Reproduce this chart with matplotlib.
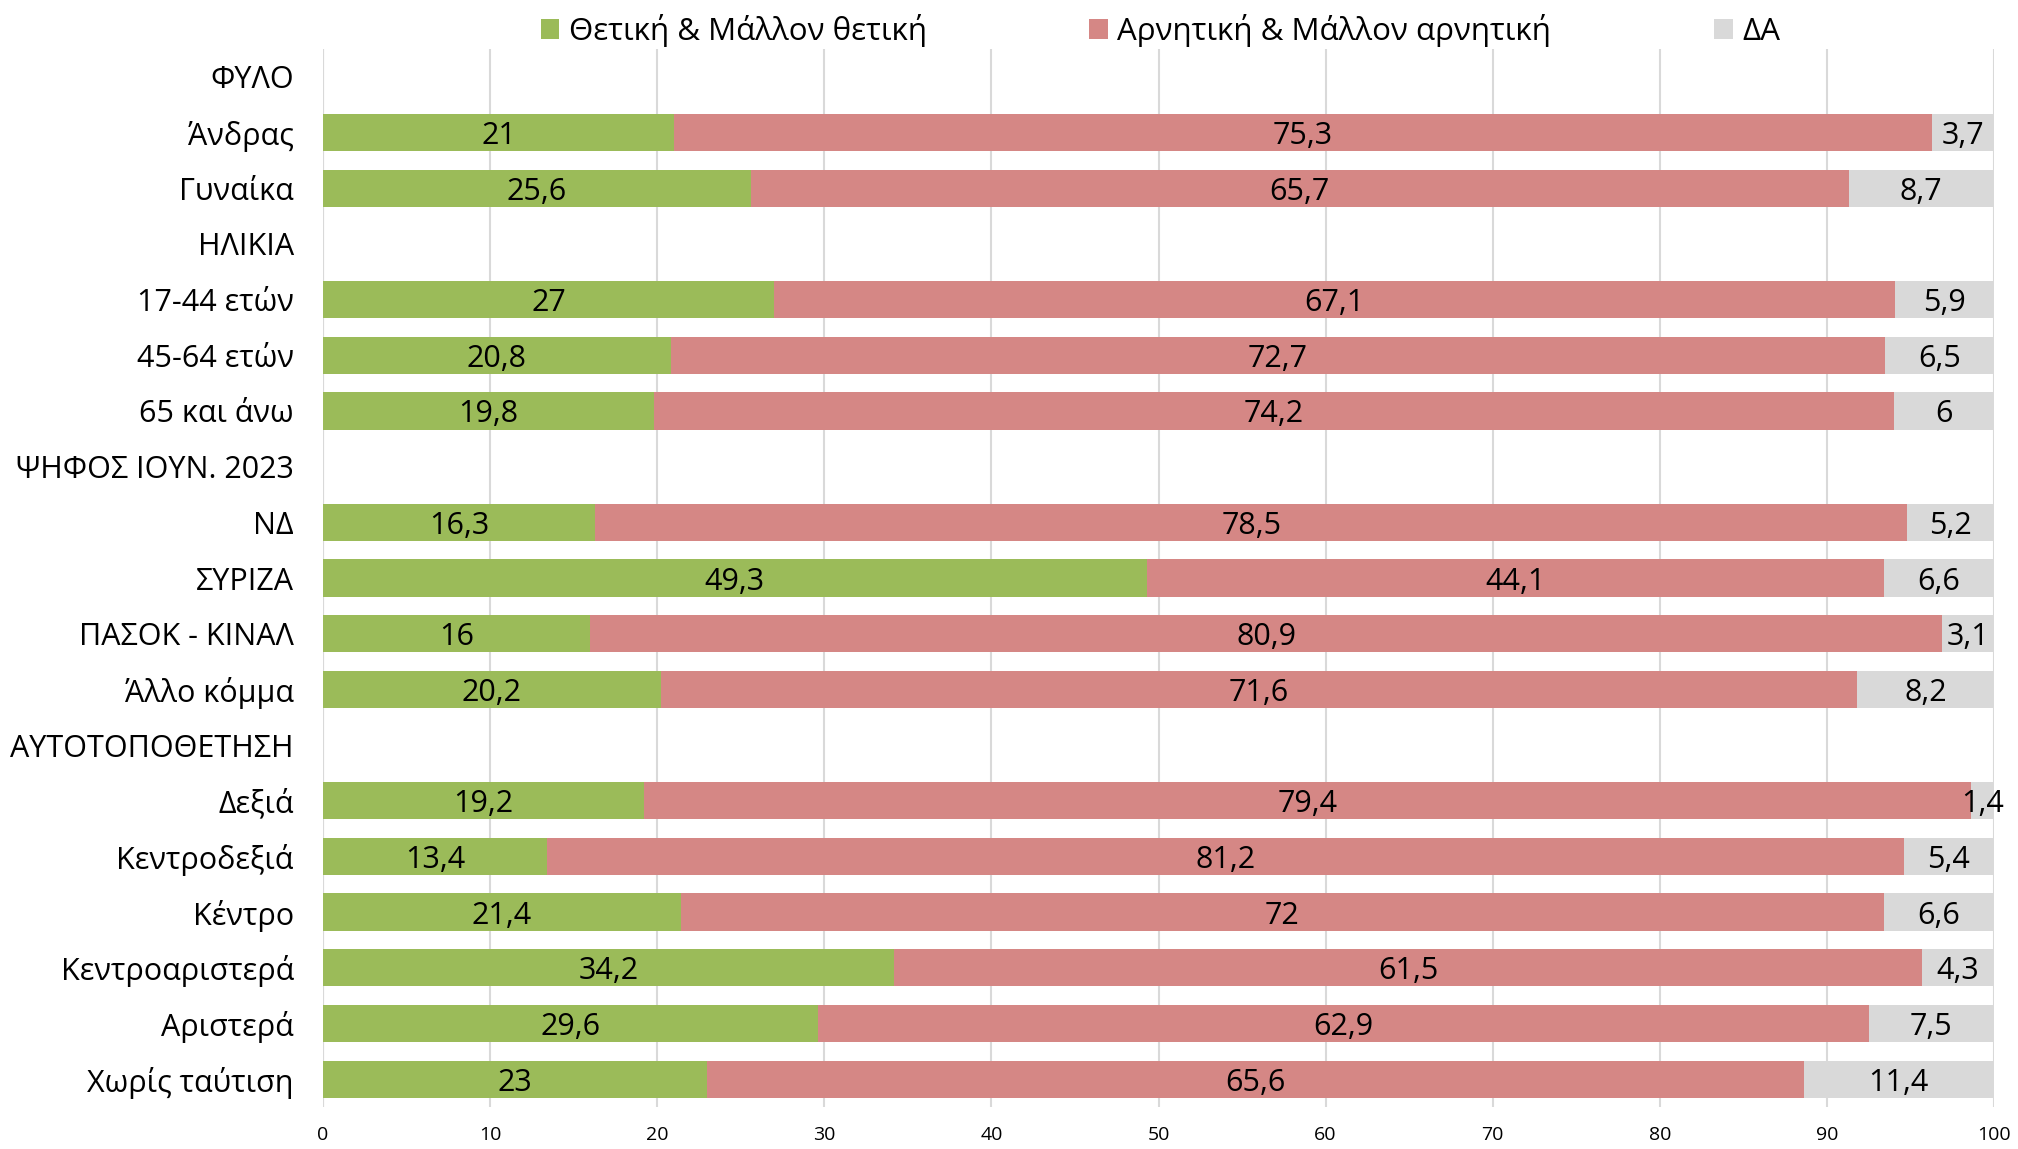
import matplotlib
matplotlib.use("Agg")
import matplotlib.pyplot as plt
from matplotlib.patches import Patch

plt.rcParams['font.family'] = ['Open Sans', 'DejaVu Sans']

categories = ["ΦΥΛΟ", "Άνδρας", "Γυναίκα", "ΗΛΙΚΙΑ", "17-44 ετών", "45-64 ετών",
              "65 και άνω", "ΨΗΦΟΣ ΙΟΥΝ. 2023", "ΝΔ", "ΣΥΡΙΖΑ", "ΠΑΣΟΚ - ΚΙΝΑΛ",
              "Άλλο κόμμα", "ΑΥΤΟΤΟΠΟΘΕΤΗΣΗ", "Δεξιά", "Κεντροδεξιά", "Κέντρο",
              "Κεντροαριστερά", "Αριστερά", "Χωρίς ταύτιση"]
positive = [None, 21, 25.6, None, 27, 20.8, 19.8, None, 16.3, 49.3, 16, 20.2,
            None, 19.2, 13.4, 21.4, 34.2, 29.6, 23]
negative = [None, 75.3, 65.7, None, 67.1, 72.7, 74.2, None, 78.5, 44.1, 80.9, 71.6,
            None, 79.4, 81.2, 72, 61.5, 62.9, 65.6]
dk = [None, 3.7, 8.7, None, 5.9, 6.5, 6, None, 5.2, 6.6, 3.1, 8.2,
      None, 1.4, 5.4, 6.6, 4.3, 7.5, 11.4]
series_names = ["Θετική & Μάλλον θετική", "Αρνητική & Μάλλον αρνητική", "ΔΑ"]
colors = ["#9BBB59", "#D58785", "#D9D9D9"]
xticks = [0, 10, 20, 30, 40, 50, 60, 70, 80, 90, 100]

fig = plt.figure(figsize=(20.18, 11.49), dpi=100)
ax = fig.add_axes([323/2018, 1 - 1107/1149, (1994-323)/2018, (1107-49)/1149])

n = len(categories)
ys = list(range(n))

def fmt(v):
    return ("%g" % v).replace(".", ",")

for i in range(n):
    if positive[i] is None:
        continue
    left = 0
    for val, col in zip([positive[i], negative[i], dk[i]], colors):
        ax.barh(ys[i], val, left=left, height=0.67, color=col, zorder=2)
        ax.text(left + val/2, ys[i], fmt(val), ha='center', va='center_baseline',
                fontsize=22, color='black', zorder=3)
        left += val

ax.set_ylim(n - 0.5, -0.5)
ax.set_xlim(0, 100)
ax.set_yticks(ys)
ax.set_yticklabels(categories, fontsize=22, va='center_baseline')
ax.set_xticks(xticks)
ax.set_xticklabels([str(t) for t in xticks], fontsize=14)
ax.tick_params(axis='both', length=0)
ax.tick_params(axis='y', pad=21)
ax.tick_params(axis='x', pad=14)
ax.grid(axis='x', color='#D9D9D9', linewidth=1.5, zorder=0)
for s in ax.spines.values():
    s.set_visible(False)
ax.axvline(0, color='#D9D9D9', linewidth=1.5, zorder=1)

handles = [Patch(facecolor=c, edgecolor='none') for c in colors]
fig.legend(handles, series_names, loc='upper center', bbox_to_anchor=(0.575, 1.012),
           ncol=3, frameon=False, fontsize=22.5, handlelength=0.6, handleheight=0.6,
           handletextpad=0.3, columnspacing=5.2)

fig.savefig("out.png", dpi=100)
